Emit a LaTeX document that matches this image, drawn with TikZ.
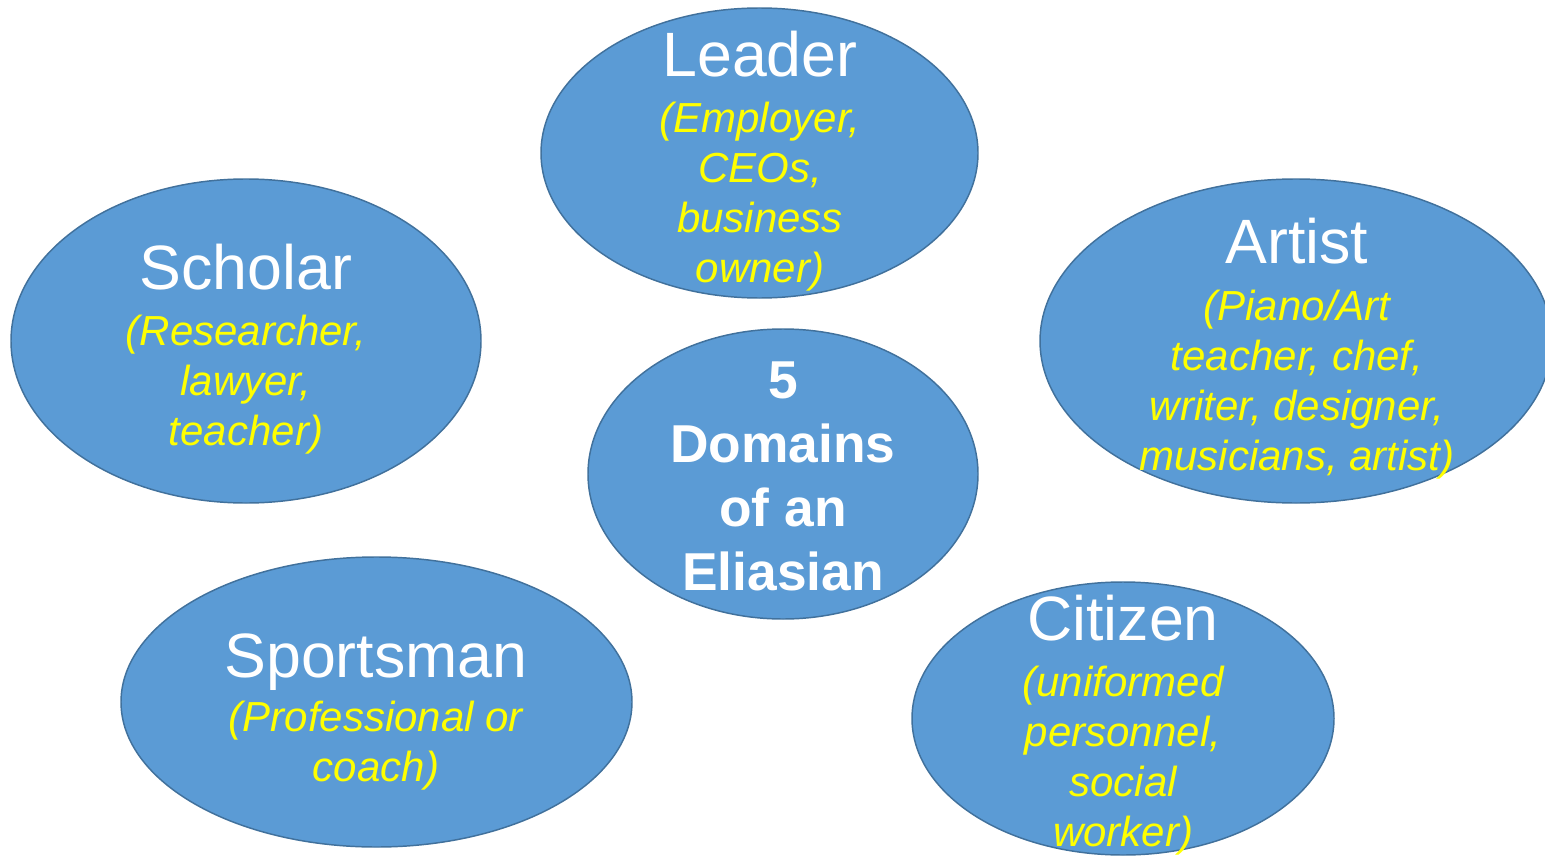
\documentclass[tikz,border=0pt]{standalone}
\usepackage{fontspec}
\setmainfont{Liberation Sans}
\usetikzlibrary{shapes.geometric}
\definecolor{domfill}{HTML}{5B9BD5}
\definecolor{domline}{HTML}{41719C}
\definecolor{hint}{HTML}{FFFF00}
\begin{document}
\begin{tikzpicture}[x=0.75pt,y=-0.75pt,
  domoval/.style={ellipse,fill=domfill,draw=domline,line width=1.1pt,inner sep=0pt},
  domtitle/.style={anchor=base,text=white,font=\fontsize{47}{56}\selectfont},
  % multi-line labels are placed by the baseline of their last line
  examples/.style={anchor=base,align=center,text=hint,font=\fontsize{31.5}{37.5}\selectfont\itshape},
  hubtext/.style={anchor=base,align=center,text=white,font=\fontsize{40}{48}\selectfont\bfseries}]
\useasboundingbox (0,0) rectangle (1545,856);

% the five domains and the hub
\node[domoval,minimum width=327.75pt,minimum height=217.5pt] (lead) at (759.5,153) {};
\node[domoval,minimum width=352.5pt,minimum height=243pt] (schol) at (246,341) {};
\node[domoval,minimum width=384pt,minimum height=243pt] (art) at (1296,341) {};
\node[domoval,minimum width=292.5pt,minimum height=217.5pt] (hub) at (783,474) {};
\node[domoval,minimum width=383.25pt,minimum height=217.5pt] (sport) at (376.5,702) {};
\node[domoval,minimum width=316.5pt,minimum height=204.75pt] (citz) at (1123,718.5) {};

% labels
\node[domtitle] (leadT) at (760,77) {Leader};
\node[examples] (leadE) at (760,282) {(Employer,\\CEOs,\\business\\owner)};

\node[domtitle] (scholT) at (246,289) {Scholar};
\node[examples] (scholE) at (246,445) {(Researcher,\\lawyer,\\teacher)};

\node[domtitle] (artT) at (1297,263) {Artist};
\node[examples] (artE) at (1297,470) {(Piano/Art\\teacher, chef,\\writer, designer,\\musicians, artist)};

\node[hubtext] (hubT) at (783,590) {5\\Domains\\of an\\Eliasian};

\node[domtitle] (sportT) at (376,677) {Sportsman};
\node[examples] (sportE) at (376,781) {(Professional or\\coach)};

\node[domtitle] (citzT) at (1123,640) {Citizen};
\node[examples] (citzE) at (1123,846) {(uniformed\\personnel,\\social\\worker)};
\end{tikzpicture}
\end{document}
